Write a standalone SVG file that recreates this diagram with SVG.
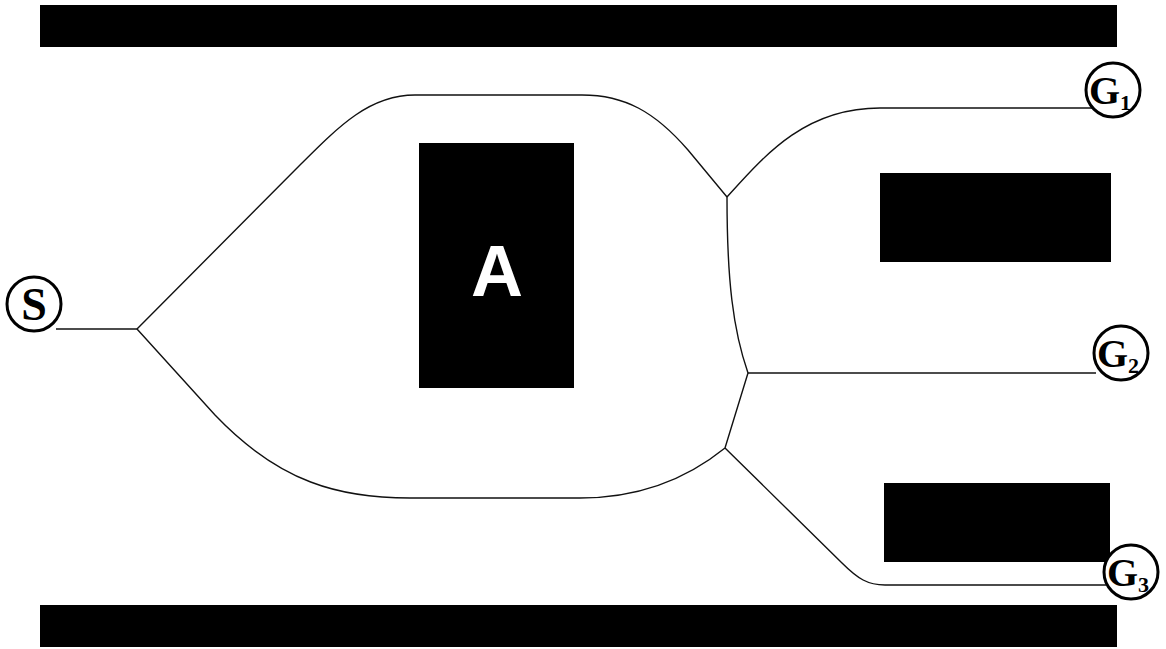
<svg xmlns="http://www.w3.org/2000/svg" width="1166" height="649" viewBox="0 0 1166 649">
<style>
.blk{fill:#000}
.wire{fill:none;stroke:#111;stroke-width:1.4}
.ring{fill:#fff;stroke:#000;stroke-width:3}
.lbl{font-family:"Liberation Serif",serif;font-weight:bold;fill:#000}
</style>
<rect width="1166" height="649" fill="#fff"/>
<g id="walls">
<rect class="blk" x="40" y="5" width="1077" height="42"/>
<rect class="blk" x="40" y="605" width="1077" height="42"/>
</g>
<g id="connectors">
<path class="wire" d="M56,329 L137,329"/>
<path class="wire" d="M137,329 L300,165 C340,125 370,95 415,95 L582,95 C625,95 655,112 688,150 L727,197"/>
<path class="wire" d="M137,329 L215,415 C280,483 340,498 410,498 L580,498 C640,498 688,478 725,448"/>
<path class="wire" d="M727,197 C727,280 733,330 748,373 L725,448"/>
<path class="wire" d="M727,197 C765,155 805,108 880,108 L1094,108"/>
<path class="wire" d="M748,373 L1096,373"/>
<path class="wire" d="M725,448 L842,563 C858,579 868,585 885,585 L1106,585"/>
</g>
<g id="nodeA">
<rect class="blk" x="419" y="143" width="155" height="245"/>
<text x="497" y="296" text-anchor="middle" font-family="Liberation Sans, Arial, sans-serif" font-weight="bold" font-size="72" fill="#fff">A</text>
</g>
<g id="block1"><rect class="blk" x="880" y="173" width="231" height="89"/></g>
<g id="block2"><rect class="blk" x="884" y="483" width="226" height="79"/></g>
<g id="nodeS">
<circle class="ring" cx="34" cy="304" r="27"/>
<text class="lbl" x="34" y="320" text-anchor="middle" font-size="46">S</text>
</g>
<g id="nodeG1">
<circle class="ring" cx="1113" cy="90" r="27"/>
<text class="lbl" x="1110" y="104" text-anchor="middle" font-size="40">G<tspan font-size="22" dy="6">1</tspan></text>
</g>
<g id="nodeG2">
<circle class="ring" cx="1121" cy="353" r="27"/>
<text class="lbl" x="1118" y="367" text-anchor="middle" font-size="40">G<tspan font-size="22" dy="6">2</tspan></text>
</g>
<g id="nodeG3">
<circle class="ring" cx="1131" cy="572" r="27"/>
<text class="lbl" x="1128" y="586" text-anchor="middle" font-size="40">G<tspan font-size="22" dy="6">3</tspan></text>
</g>
</svg>
